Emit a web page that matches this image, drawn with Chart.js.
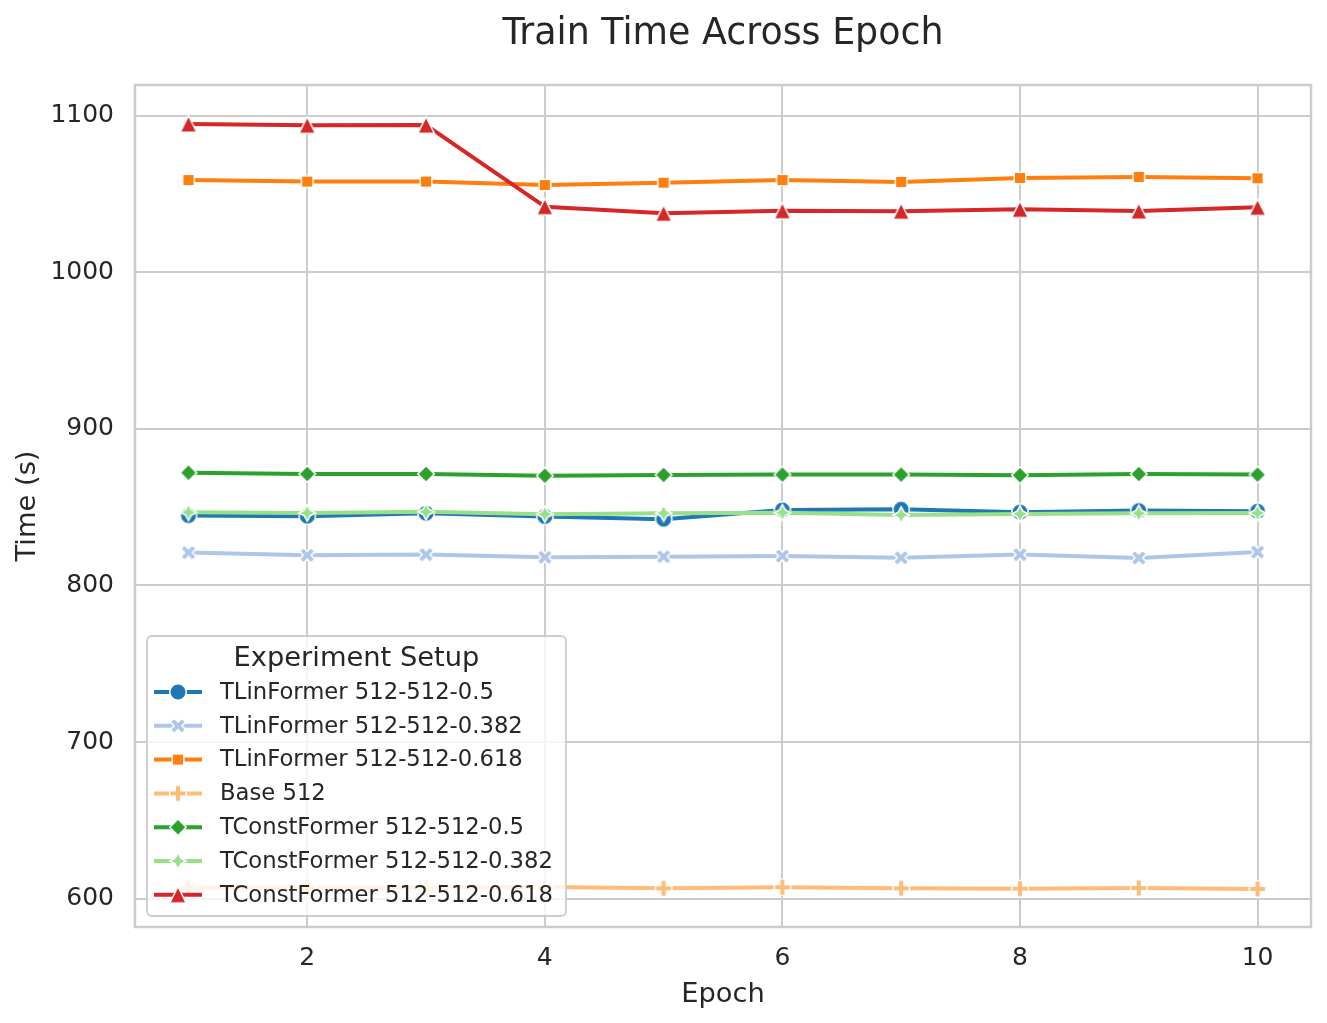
<!DOCTYPE html>
<html>
<head>
<meta charset="utf-8">
<script src="https://cdn.jsdelivr.net/npm/chart.js@4.4.1/dist/chart.umd.min.js"></script>
<style>
  html, body { margin: 0; padding: 0; background: #fff; }
  canvas { display: block; }
</style>
</head>
<body>
<canvas id="c" width="1327" height="1023"></canvas>
<script>
const EPOCHS = [1, 2, 3, 4, 5, 6, 7, 8, 9, 10];
const X_TICKS = [2, 4, 6, 8, 10];
const Y_TICKS = [600, 700, 800, 900, 1000, 1100];

const NAMES = [
  'TLinFormer 512-512-0.5', 'TLinFormer 512-512-0.382', 'TLinFormer 512-512-0.618', 'Base 512',
  'TConstFormer 512-512-0.5', 'TConstFormer 512-512-0.382', 'TConstFormer 512-512-0.618'
];
const TLIN_05     = [844.6, 844.2, 846.1, 844.0, 842.3, 848.2, 848.7, 846.8, 847.8, 847.4];
const TLIN_0382   = [821.0, 819.3, 819.7, 818.0, 818.4, 818.8, 817.7, 819.7, 817.6, 821.3];
const TLIN_0618   = [1058.9, 1057.9, 1057.9, 1055.7, 1057.2, 1058.9, 1057.7, 1060.2, 1060.9, 1060.0];
const BASE_512    = [607.0, 607.2, 607.0, 607.4, 606.6, 607.3, 606.6, 606.4, 606.8, 606.2];
const TCONST_05   = [872.0, 871.2, 871.2, 870.1, 870.6, 870.8, 870.8, 870.4, 871.2, 870.8];
const TCONST_0382 = [846.7, 846.3, 847.0, 845.5, 846.1, 846.5, 845.0, 845.7, 846.1, 846.3];
const TCONST_0618 = [1094.7, 1093.9, 1094.0, 1041.9, 1037.7, 1039.3, 1039.0, 1040.2, 1039.1, 1041.5];
const SERIES = [TLIN_05, TLIN_0382, TLIN_0618, BASE_512, TCONST_05, TCONST_0382, TCONST_0618];

const COLORS = ['#1f77b4', '#aec7e8', '#ff7f0e', '#ffbb78', '#2ca02c', '#98df8a', '#d62728'];
const SHAPES = ['circle', 'xfill', 'square', 'plusfill', 'diamond', 'star4', 'triangle'];

const FONT = '"DejaVu Sans", sans-serif';
const TXT = '#262626', GRID = '#cccccc';
const MS = 16.5; // marker size px

// marker canvases (matplotlib-like filled markers with white edge)
function marker(shape, color) {
  const c = document.createElement('canvas');
  c.width = 28; c.height = 28;
  const g = c.getContext('2d');
  g.translate(14, 14);
  const h = MS / 2;
  g.beginPath();
  if (shape === 'circle') {
    g.arc(0, 0, h, 0, Math.PI * 2);
  } else if (shape === 'square') {
    const a = h * Math.SQRT1_2;
    g.rect(-a, -a, 2 * a, 2 * a);
  } else if (shape === 'diamond') {
    g.moveTo(0, -h); g.lineTo(h, 0); g.lineTo(0, h); g.lineTo(-h, 0); g.closePath();
  } else if (shape === 'triangle') {
    g.moveTo(0, -h); g.lineTo(h, h); g.lineTo(-h, h); g.closePath();
  } else if (shape === 'star4') {
    for (let i = 0; i < 8; i++) {
      const r = i % 2 ? h * 0.5 : h, t = -Math.PI / 2 + i * Math.PI / 4;
      i ? g.lineTo(r * Math.cos(t), r * Math.sin(t)) : g.moveTo(r * Math.cos(t), r * Math.sin(t));
    }
    g.closePath();
  } else {
    if (shape === 'xfill') g.rotate(Math.PI / 4);
    const k = MS / 6;
    const P = [[-1,-3],[-1,-1],[-3,-1],[-3,1],[-1,1],[-1,3],[1,3],[1,1],[3,1],[3,-1],[1,-1],[1,-3]];
    P.forEach((p, i) => i ? g.lineTo(p[0] * k, p[1] * k) : g.moveTo(p[0] * k, p[1] * k));
    g.closePath();
  }
  g.fillStyle = color; g.fill();
  g.lineWidth = 1.5; g.strokeStyle = '#ffffff'; g.stroke();
  return c;
}
const MARKERS = SHAPES.map((s, i) => marker(s, COLORS[i]));

const frame = {
  id: 'frame',
  beforeDatasetsDraw(chart) {
    const { ctx, chartArea: a } = chart;
    ctx.save();
    ctx.strokeStyle = GRID; ctx.lineWidth = 2.5;
    ctx.strokeRect(a.left, a.top, a.right - a.left, a.bottom - a.top);
    ctx.restore();
  }
};

const legendBox = {
  id: 'legendBox',
  afterDraw(chart) {
    const ctx = chart.ctx;
    const x = 147, y = 636, w = 419, h = 280;
    ctx.save();
    ctx.beginPath();
    ctx.roundRect(x, y, w, h, 5);
    ctx.fillStyle = 'rgba(255,255,255,0.8)'; ctx.fill();
    ctx.strokeStyle = GRID; ctx.lineWidth = 1.8; ctx.stroke();
    ctx.fillStyle = TXT; ctx.textBaseline = 'middle';
    ctx.textAlign = 'center';
    ctx.font = '27.3px ' + FONT;
    ctx.fillText('Experiment Setup', x + w / 2, 659);
    ctx.textAlign = 'left';
    ctx.font = '22.7px ' + FONT;
    chart.data.datasets.forEach((ds, i) => {
      const yy = 692 + i * 33.8;
      ctx.strokeStyle = ds.borderColor; ctx.lineWidth = 4;
      ctx.beginPath(); ctx.moveTo(154, yy); ctx.lineTo(202, yy); ctx.stroke();
      ctx.drawImage(ds.pointStyle, 178 - 14, yy - 14);
      ctx.fillText(ds.label, 220, yy + 1);
    });
    ctx.restore();
  }
};

new Chart(document.getElementById('c'), {
  type: 'line',
  data: {
    datasets: NAMES.map((n, i) => ({
      label: n,
      data: EPOCHS.map((e, j) => ({ x: e, y: SERIES[i][j] })),
      borderColor: COLORS[i], backgroundColor: COLORS[i],
      borderWidth: 4, borderJoinStyle: 'round', tension: 0,
      pointStyle: MARKERS[i], pointRadius: 8, pointHoverRadius: 8,
      order: NAMES.length - i
    }))
  },
  options: {
    responsive: false, animation: false,
    layout: { padding: { left: 0, right: 16, top: 0, bottom: 0 } },
    plugins: {
      legend: { display: false },
      tooltip: { enabled: false },
      title: {
        display: true, text: 'Train Time Across Epoch', fullSize: false,
        color: TXT, font: { family: FONT, size: 36.4, weight: 'normal' },
        padding: { top: 12.5, bottom: 28.8 }
      }
    },
    scales: {
      x: {
        type: 'linear', min: 0.55, max: 10.45,
        afterBuildTicks: s => { s.ticks = X_TICKS.map(v => ({ value: v })); },
        afterFit: s => { s.height = 96; },
        ticks: { color: TXT, font: { family: FONT, size: 25 }, padding: 16, callback: v => String(v), maxRotation: 0 },
        grid: { color: GRID, lineWidth: 2, drawTicks: false },
        border: { display: false },
        title: { display: true, text: 'Epoch', color: TXT, font: { family: FONT, size: 27.3 }, padding: { top: 0, bottom: 12 } }
      },
      y: {
        type: 'linear', min: 581.9, max: 1119.6,
        afterBuildTicks: s => { s.ticks = Y_TICKS.map(v => ({ value: v })); },
        afterFit: s => { s.width = 135; },
        ticks: { color: TXT, font: { family: FONT, size: 25 }, padding: 21, callback: v => String(v) },
        grid: { color: GRID, lineWidth: 2, drawTicks: false },
        border: { display: false },
        title: { display: true, text: 'Time (s)', color: TXT, font: { family: FONT, size: 27.3 }, padding: { top: 12, bottom: 0 } }
      }
    }
  },
  plugins: [frame, legendBox]
});
</script>
</body>
</html>
